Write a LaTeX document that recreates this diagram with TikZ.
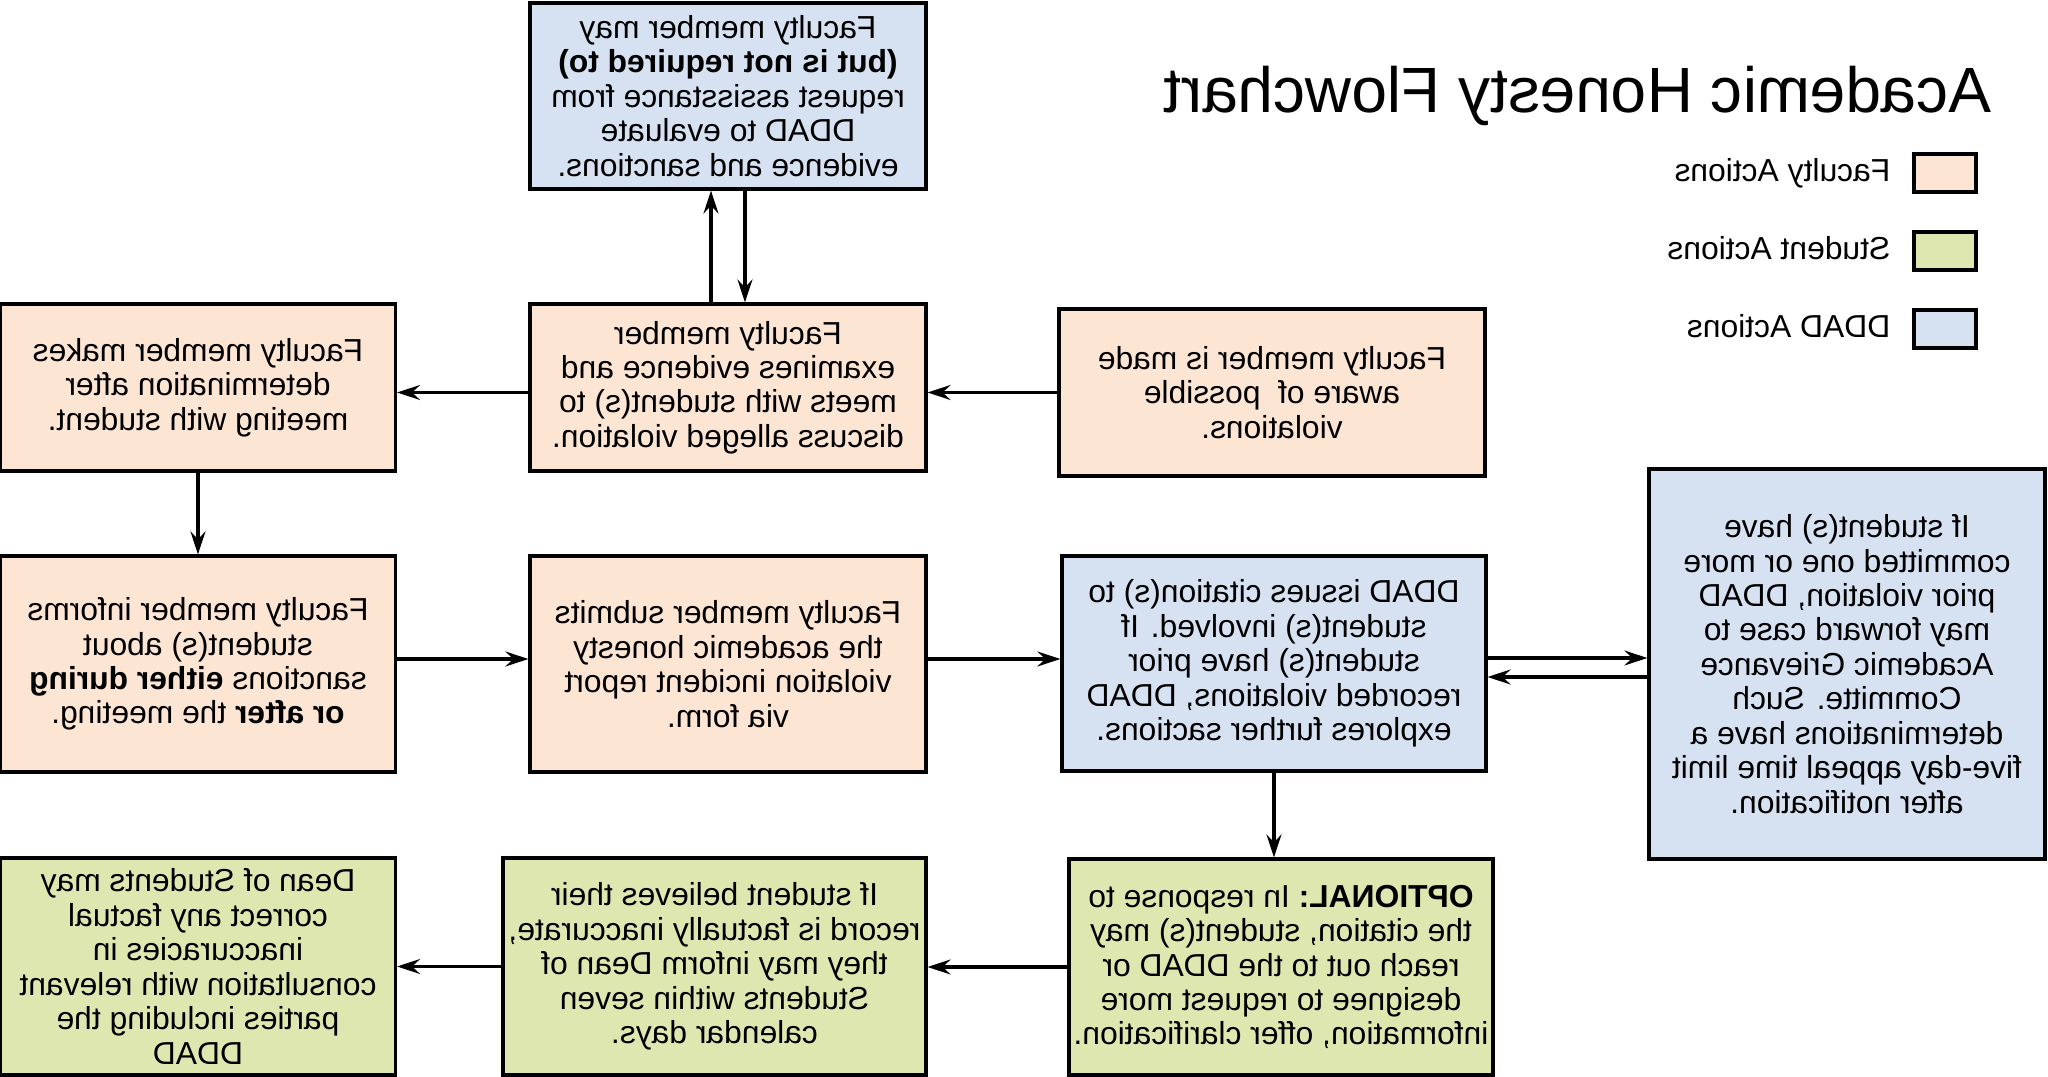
\documentclass[tikz,border=0pt]{standalone}
\usepackage{fontspec}
\setmainfont{Liberation Sans}
\usepackage{tikz}
\usetikzlibrary{arrows.meta,calc}

\definecolor{facpeach}{RGB}{253,229,212}
\definecolor{studgreen}{RGB}{222,231,175}
\definecolor{ddadblue}{RGB}{214,225,242}

\begin{document}
\begin{tikzpicture}[xscale=-1, transform shape,
  box/.style={draw=black, line width=0.9pt, align=center, inner sep=0pt,
    font=\fontsize{9.05}{9.8}\selectfont},
  fac/.style={box, fill=facpeach},
  stu/.style={box, fill=studgreen},
  dd/.style={box, fill=ddadblue},
  key/.style={anchor=base west, inner sep=0pt, font=\fontsize{9.05}{9.8}\selectfont},
  arr/.style={line width=0.9pt, -{Stealth[length=2.3mm, width=1.5mm, inset=0.8mm]}}]

\useasboundingbox (0,0) rectangle (20.48,-10.77);

\node [anchor=base, font=\fontsize{18.2}{20}\selectfont] (title) at (4.705,-1.13) {Academic Honesty Flowchart};

\node [fac, minimum width=0.62cm, minimum height=0.38cm] (keyfac) at (1.03,-1.73) {};
\node [stu, minimum width=0.62cm, minimum height=0.38cm] (keystu) at (1.03,-2.51) {};
\node [dd, minimum width=0.62cm, minimum height=0.38cm] (keydd) at (1.03,-3.29) {};
\node [key] (keyfactxt) at (1.57,-1.82) {Faculty Actions};
\node [key] (keystutxt) at (1.57,-2.60) {Student Actions};
\node [key] (keyddtxt) at (1.57,-3.38) {DDAD Actions};

\node [dd, minimum width=3.96cm, minimum height=1.86cm] (assist) at (13.20,-0.96)
  {Faculty member may\\ \textbf{(but is not required to)}\\ request assisstance from\\ DDAD to evaluate\\ evidence and sanctions.};

\node [fac, minimum width=4.26cm, minimum height=1.67cm] (aware) at (7.76,-3.925)
  {Faculty member is made\\ aware of\ \ possible\\ violations.};
\node [fac, minimum width=3.96cm, minimum height=1.67cm] (examines) at (13.20,-3.875)
  {Faculty member\\ examines evidence and\\ meets with student(s) to\\ discuss alleged violation.};
\node [fac, minimum width=3.95cm, minimum height=1.67cm] (makes) at (18.50,-3.875)
  {Faculty member makes\\ determination after\\ meeting with student.};

\node [dd, minimum width=3.96cm, minimum height=3.90cm] (prior) at (2.01,-6.64)
  {If student(s) have\\ committed one or more\\ prior violation, DDAD\\ may forward case to\\ Academic Grievance\\ Committe. Such\\ determinations have a\\ five-day appeal time limit\\ after notification.};
\node [dd, minimum width=4.24cm, minimum height=2.15cm] (issues) at (7.74,-6.635)
  {DDAD issues citation(s) to\\ student(s) involved. If\\ student(s) have prior\\ recorded violations, DDAD\\ explores further sactions.};
\node [fac, minimum width=3.96cm, minimum height=2.16cm] (submits) at (13.20,-6.64)
  {Faculty member submits\\ the academic honesty\\ violation incident report\\ via form.};
\node [fac, minimum width=3.95cm, minimum height=2.16cm] (informs) at (18.50,-6.64)
  {Faculty member informs\\ student(s) about\\ sanctions \textbf{either during}\\ \textbf{or after} the meeting.};

\node [stu, minimum width=4.24cm, minimum height=2.16cm] (optional) at (7.67,-9.67)
  {\textbf{OPTIONAL:} In response to\\ the citation, student(s) may\\ reach out to the DDAD or\\ designee to request more\\ information, offer clarification.};
\node [stu, minimum width=4.23cm, minimum height=2.17cm] (believes) at (13.335,-9.665)
  {If student believes their\\ record is factually inaccurate,\\ they may inform Dean of\\ Students within seven\\ calendar days.};
\node [stu, minimum width=3.95cm, minimum height=2.17cm] (dean) at (18.50,-9.665)
  {Dean of Students may\\ correct any factual\\ inaccuracies in\\ consultation with relevant\\ parties including the\\ DDAD};

\draw[arr] (aware.east) to (aware.east -| examines.west);
\draw[arr] (examines.east |- aware.east) to (makes.west |- aware.east);
\draw[arr] ($(examines.north)+(0.17,0)$) to ($(assist.south)+(0.17,0)$);
\draw[arr] ($(assist.south)+(-0.17,0)$) to ($(examines.north)+(-0.17,0)$);
\draw[arr] (makes) to (informs);

\coordinate (rowa) at ($(informs.west)+(0,0.05)$);
\coordinate (rowb) at ($(submits.west)+(0,0.05)$);
\draw[arr] (rowa) to (rowa -| submits.east);
\draw[arr] (rowb) to (rowb -| issues.east);

\coordinate (fwd) at ($(issues.west)+(0,0.055)$);
\coordinate (back) at ($(issues.west)+(0,-0.135)$);
\draw[arr] (fwd) to (fwd -| prior.east);
\draw[arr] (back -| prior.east) to (back);

\draw[arr] (issues.south) to (issues.south |- optional.north);
\draw[arr] (optional.east) to (optional.east -| believes.west);
\draw[arr] (believes.east) to (believes.east -| dean.west);

\end{tikzpicture}
\end{document}
